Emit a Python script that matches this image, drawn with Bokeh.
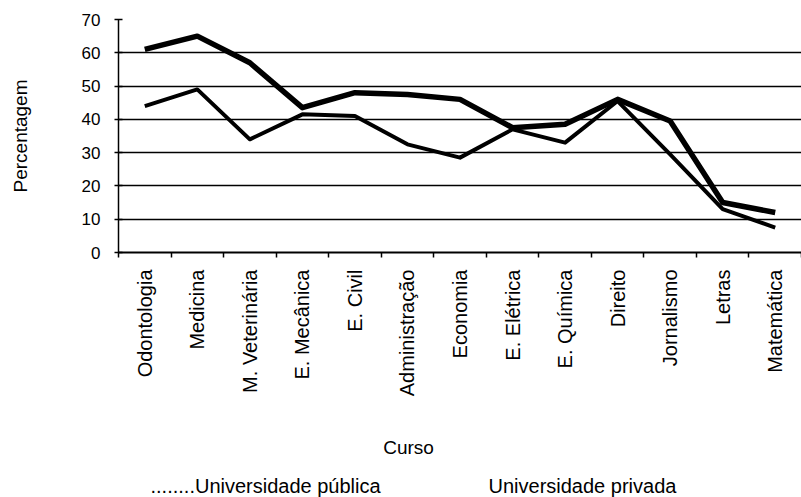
import math
from bokeh.plotting import figure
from bokeh.models import Range1d, FixedTicker, Grid, LinearAxis
from bokeh.layouts import column
from bokeh.core.properties import value
from bokeh.embed import file_html
from bokeh.resources import INLINE

cursos = ["Odontologia", "Medicina", "M. Veterinária", "E. Mecânica", "E. Civil",
          "Administração", "Economia", "E. Elétrica", "E. Química", "Direito",
          "Jornalismo", "Letras", "Matemática"]
publica = [61, 65, 57, 43.5, 48, 47.5, 46, 37.5, 38.5, 46, 39.5, 15, 12]
privada = [44, 49, 34, 41.5, 41, 32.5, 28.5, 37, 33, 45.5, 29.5, 13, 7.5]
y_ticks = [0, 10, 20, 30, 40, 50, 60, 70]
x_title = "Curso"
y_title = "Percentagem"
legend_texts = ["........Universidade pública", "Universidade privada"]

FONT = "Liberation Sans"
xs = [i + 0.5 for i in range(len(cursos))]

p = figure(width=801, height=428, output_backend="svg", toolbar_location=None,
           x_range=Range1d(0, len(cursos)), y_range=Range1d(y_ticks[0], y_ticks[-1]),
           x_axis_type=None, y_axis_type=None,
           min_border_left=118, min_border_right=0, min_border_top=19, min_border_bottom=176)
p.outline_line_color = None
p.background_fill_color = "white"
p.border_fill_color = "white"

# y axis
yaxis = LinearAxis(ticker=FixedTicker(ticks=y_ticks, minor_ticks=[]))
yaxis.axis_label = y_title
yaxis.axis_label_text_font = FONT
yaxis.axis_label_text_font_size = "19px"
yaxis.axis_label_text_font_style = "normal"
yaxis.axis_label_text_color = "black"
yaxis.axis_label_standoff = 48
yaxis.major_label_text_font = FONT
yaxis.major_label_text_font_size = "17px"
yaxis.major_label_text_color = "black"
yaxis.major_label_standoff = 14
yaxis.major_tick_out = 4
yaxis.major_tick_in = 4
yaxis.major_tick_line_color = "black"
yaxis.major_tick_line_width = 1.5
yaxis.axis_line_color = "black"
yaxis.axis_line_width = 1.5
p.add_layout(yaxis, "left")

# x axis
xaxis = LinearAxis(ticker=FixedTicker(ticks=xs, minor_ticks=list(range(len(cursos) + 1))))
xaxis.major_label_overrides = {x: c for x, c in zip(xs, cursos)}
xaxis.major_label_orientation = math.pi / 2
xaxis.major_label_text_font = FONT
xaxis.major_label_text_font_size = "20px"
xaxis.major_label_text_color = "black"
xaxis.major_label_standoff = 12
xaxis.major_tick_out = 0
xaxis.major_tick_in = 0
xaxis.minor_tick_out = 5
xaxis.minor_tick_in = 0
xaxis.minor_tick_line_color = "black"
xaxis.minor_tick_line_width = 1.5
xaxis.axis_line_color = "black"
xaxis.axis_line_width = 2
p.add_layout(xaxis, "below")

# grid lines
p.add_layout(Grid(dimension=1, ticker=FixedTicker(ticks=y_ticks[:-1]),
                  grid_line_color="black", grid_line_width=1.5))
p.add_layout(Grid(dimension=1, ticker=FixedTicker(ticks=y_ticks[-1:]),
                  grid_line_color="black", grid_line_width=1.5, grid_line_dash="14 10"))

# series
p.line(xs, publica, line_color="black", line_width=5.5, line_join="round")
p.line(xs, privada, line_color="black", line_width=4, line_join="round")

# lower strip with axis title and legend texts (frame aligned with the chart frame)
q = figure(width=801, height=69, output_backend="svg", toolbar_location=None,
           x_range=Range1d(0, 683), y_range=Range1d(0, 69),
           x_axis_type=None, y_axis_type=None,
           min_border_left=118, min_border_right=0, min_border_top=0, min_border_bottom=0)
q.outline_line_color = None
q.background_fill_color = "white"
q.border_fill_color = "white"
q.xgrid.visible = False
q.ygrid.visible = False
q.text(x=[290], y=[50], text=[x_title], text_font=value(FONT), text_font_size="19px",
       text_align="center", text_baseline="middle", text_color="black")
q.text(x=[32, 370], y=[12, 12], text=legend_texts, text_font=value(FONT),
       text_font_size="20px", text_align="left", text_baseline="middle", text_color="black")

layout = column(p, q, spacing=0)
open("out.html", "w").write(file_html(layout, INLINE))
